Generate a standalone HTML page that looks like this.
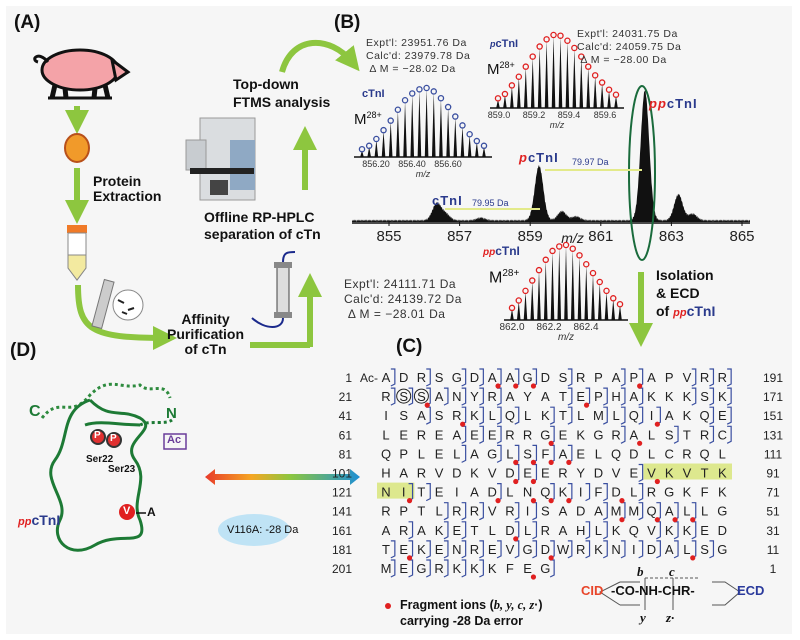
<!DOCTYPE html>
<html><head><meta charset="utf-8">
<style>
html,body{margin:0;padding:0;background:#fff}
#root{position:relative;width:800px;height:640px;overflow:hidden;background:#fff;font-family:"Liberation Sans",sans-serif}
#bg{position:absolute;left:6px;top:6px;width:786px;height:628px;background:#f6f6f6}
.t{position:absolute;white-space:nowrap;color:#111}
.b{font-weight:bold}
svg{position:absolute;left:0;top:0}
</style></head><body>
<div id="root">
<div id="bg"></div>
<svg width="800" height="640" id="art">
 <defs>
  <linearGradient id="rb" x1="0" x2="1"><stop offset="0" stop-color="#e83a2a"/><stop offset=".3" stop-color="#f5a623"/><stop offset=".55" stop-color="#8cc63f"/><stop offset="1" stop-color="#1e8fd5"/></linearGradient>
  <marker id="ga" markerWidth="4" markerHeight="4" refX="2" refY="2" orient="auto"><path d="M0,0 L4,2 L0,4z" fill="#8dc63f"/></marker>
 </defs>
 <g>
  <ellipse cx="80" cy="70" rx="38" ry="20" fill="#f4a3a8" stroke="#111" stroke-width="3"/>
  <path d="M112,60 L128,72 L116,80z" fill="#f4a3a8" stroke="#111" stroke-width="3"/>
  <path d="M48,62 C38,50 30,60 38,62" fill="none" stroke="#111" stroke-width="3"/>
  <path d="M55,85 L52,98 M65,88 L66,98 M95,88 L94,98 M105,85 L108,98" stroke="#111" stroke-width="5"/>
  <line x1="48" y1="98" x2="112" y2="98" stroke="#111" stroke-width="3"/>
 </g>
 <line x1="77" y1="106" x2="77" y2="122" stroke="#8dc63f" stroke-width="6" marker-end="url(#ga)"/>
 <ellipse cx="77" cy="148" rx="12" ry="14" fill="#f19a2a" stroke="#b8501a" stroke-width="2"/>
 <line x1="77" y1="168" x2="77" y2="212" stroke="#8dc63f" stroke-width="6" marker-end="url(#ga)"/>
 <g>
  <rect x="67" y="225" width="20" height="8" fill="#f07a28"/>
  <path d="M68,233 L86,233 L86,268 L77,280 L68,268z" fill="#fff" stroke="#888"/>
  <path d="M68,255 L86,255 L86,268 L77,280 L68,268z" fill="#f3eaa0" stroke="#888"/>
 </g>
 <path d="M78,285 C78,330 90,338 165,338" fill="none" stroke="#8dc63f" stroke-width="6" marker-end="url(#ga)"/>
 <g>
  <rect x="98" y="280" width="10" height="48" fill="#ccc" stroke="#777" transform="rotate(15 103 304)"/>
  <circle cx="128" cy="305" r="15" fill="#fff" stroke="#888"/>
  <path d="M118,300 l6,3 M128,310 l6,-2 M122,312 l5,2" stroke="#222" stroke-width="2"/>
 </g>
 <line x1="250" y1="345" x2="310" y2="345" stroke="#8dc63f" stroke-width="6"/>
 <line x1="310" y1="347" x2="310" y2="285" stroke="#8dc63f" stroke-width="6" marker-end="url(#ga)"/>
 <g>
  <rect x="277" y="265" width="12" height="50" fill="#ddd" stroke="#444"/>
  <rect x="274" y="262" width="18" height="6" fill="#888"/><rect x="274" y="312" width="18" height="6" fill="#888"/>
  <path d="M283,262 C283,252 288,252 295,252 M283,318 C283,330 265,330 252,318" fill="none" stroke="#1b2a8c" stroke-width="2"/>
 </g>
 <g>
  <rect x="200" y="118" width="55" height="82" fill="#dadde0" stroke="#999"/>
  <rect x="230" y="140" width="25" height="50" fill="#8fa9c4"/>
  <rect x="186" y="140" width="20" height="30" fill="#c8ccd0" stroke="#999"/>
  <rect x="190" y="168" width="64" height="6" fill="#222"/>
  <rect x="210" y="180" width="18" height="15" fill="#444"/>
 </g>
 <line x1="305" y1="190" x2="305" y2="138" stroke="#8dc63f" stroke-width="6" marker-end="url(#ga)"/>
 <path d="M282,72 C292,35 330,35 352,62" fill="none" stroke="#8dc63f" stroke-width="6" marker-end="url(#ga)"/>
 <g id="spec"></g>
 <g id="insets"></g>
 <ellipse cx="642" cy="173" rx="13" ry="87" fill="none" stroke="#1a6b3c" stroke-width="2"/>
 <line x1="445" y1="209" x2="540" y2="209" stroke="#e3ea8a" stroke-width="2"/>
 <line x1="545" y1="170" x2="642" y2="170" stroke="#e3ea8a" stroke-width="2"/>
 <line x1="641" y1="272" x2="641" y2="335" stroke="#8dc63f" stroke-width="6" marker-end="url(#ga)"/>
 <g>
  <path d="M42,418 C60,395 70,420 90,395 C110,375 120,390 140,385 C150,395 165,380 170,398" fill="none" stroke="#2e8b3e" stroke-width="3" stroke-dasharray="3,3"/>
  <path d="M90,400 C60,410 70,440 55,460 C40,480 70,500 60,520 C50,540 70,560 95,545 C120,530 150,550 140,520 C130,500 150,480 135,460 C120,440 160,430 140,418 C120,408 110,420 90,400 M85,425 C100,420 120,425 140,425" fill="none" stroke="#1d7a35" stroke-width="3"/>
  <path d="M140,425 C150,420 165,425 172,420" fill="none" stroke="#1d7a35" stroke-width="3" stroke-dasharray="3,3"/>
  <circle cx="98" cy="437" r="7" fill="#e03030" stroke="#333" stroke-width="2"/><circle cx="114" cy="440" r="7" fill="#e03030" stroke="#333" stroke-width="2"/>
  <circle cx="127" cy="512" r="8" fill="#e02020"/>
  <line x1="136" y1="513" x2="146" y2="513" stroke="#111" stroke-width="1.5"/>
  <rect x="164" y="434" width="22" height="15" fill="none" stroke="#6a3d9a" stroke-width="1.5"/>
 </g>
 <ellipse cx="254" cy="530" rx="36" ry="16" fill="#bfe3f5"/>
 <path d="M205,477 L215,469 L215,474 L350,474 L350,469 L360,477 L350,485 L350,480 L215,480 L215,485z" fill="url(#rb)"/>
 <g id="seq"></g>
 <circle cx="388" cy="606" r="3" fill="#e02020"/>
 <g fill="none" stroke="#555" stroke-width="1">
  <path d="M620,582 L600,592 L620,605 M620,582 L640,582 M620,605 L640,605"/>
  <path d="M712,582 L725,582 L740,592 L725,605 L712,605"/>
  <line x1="645" y1="578" x2="645" y2="610"/><line x1="673" y1="578" x2="673" y2="610"/>
  <line x1="645" y1="578" x2="700" y2="578" stroke-dasharray="3,2"/>
 </g>
</svg>
<div class="t b" style="left:14px;top:12px;font-size:19px">(A)</div>
<div class="t b" style="left:93px;top:174px;font-size:14px;line-height:15px">Protein<br>Extraction</div>
<div class="t b" style="left:167px;top:312px;font-size:14px;line-height:15px;text-align:center">Affinity<br>Purification<br>of cTn</div>
<div class="t b" style="left:204px;top:209px;font-size:14px;line-height:17px">Offline RP-HPLC<br>separation of cTn</div>
<div class="t b" style="left:233px;top:75px;font-size:14px;line-height:18px">Top-down<br>FTMS analysis</div>
<div class="t b" style="left:334px;top:12px;font-size:19px">(B)</div>
<div class="t" style="left:366px;top:37px;font-size:10.5px;line-height:13px;letter-spacing:.5px;color:#333">Expt'l: 23951.76 Da<br>Calc'd: 23979.78 Da<br>&nbsp;Δ M = −28.02 Da</div>
<div class="t" style="left:577px;top:28px;font-size:10.5px;line-height:13px;letter-spacing:.5px;color:#333">Expt'l: 24031.75 Da<br>Calc'd: 24059.75 Da<br>&nbsp;Δ M = −28.00 Da</div>
<div class="t" style="left:344px;top:277px;font-size:12px;line-height:15px;letter-spacing:.5px;color:#333">Expt'l: 24111.71 Da<br>Calc'd: 24139.72 Da<br>&nbsp;Δ M = −28.01 Da</div>
<div class="t b" style="left:362px;top:88px;font-size:11px;color:#2a3a8c">cTnI</div>
<div class="t" style="left:354px;top:110px;font-size:15px">M<sup style="font-size:9px">28+</sup></div>
<div class="t b" style="left:490px;top:38px;font-size:11px;color:#2a3a8c"><i style="font-size:9px">p</i>cTnI</div>
<div class="t" style="left:487px;top:60px;font-size:15px">M<sup style="font-size:9px">28+</sup></div>
<div class="t b" style="left:483px;top:244px;font-size:12px;color:#2a3a8c"><i style="font-size:10px;color:#e02020">pp</i>cTnI</div>
<div class="t" style="left:489px;top:268px;font-size:16px">M<sup style="font-size:10px">28+</sup></div>
<div class="t b" style="left:432px;top:193px;font-size:13px;color:#2a3a8c;letter-spacing:1px">cTnI</div>
<div class="t" style="left:472px;top:198px;font-size:9px;color:#2a3a8c">79.95 Da</div>
<div class="t b" style="left:519px;top:150px;font-size:13px;color:#2a3a8c;letter-spacing:1px"><i style="color:#e02020">p</i>cTnI</div>
<div class="t" style="left:572px;top:157px;font-size:9px;color:#2a3a8c">79.97 Da</div>
<div class="t b" style="left:649px;top:96px;font-size:13px;color:#2a3a8c;letter-spacing:1px"><i style="color:#e02020">pp</i>cTnI</div>
<div class="t b" style="left:656px;top:266px;font-size:14px;line-height:18px">Isolation<br>&amp; ECD<br>of <i style="color:#e02020;font-size:11px">pp</i><span style="color:#2a3a8c">cTnI</span></div>
<div class="t b" style="left:396px;top:336px;font-size:19px">(C)</div>
<div class="t b" style="left:10px;top:340px;font-size:19px">(D)</div>
<div class="t b" style="left:29px;top:403px;font-size:16px;color:#1d7a35">C</div>
<div class="t b" style="left:166px;top:405px;font-size:15px;color:#1d7a35">N</div>
<div class="t b" style="left:167px;top:434px;font-size:11px;color:#6a3d9a">Ac</div>
<div class="t b" style="left:94px;top:430px;font-size:10px;color:#fff">P</div>
<div class="t b" style="left:110px;top:433px;font-size:10px;color:#fff">P</div>
<div class="t b" style="left:86px;top:454px;font-size:10px">Ser22</div>
<div class="t b" style="left:108px;top:464px;font-size:10px">Ser23</div>
<div class="t b" style="left:123px;top:505px;font-size:11px;color:#fff">V</div>
<div class="t b" style="left:147px;top:505px;font-size:12px">A</div>
<div class="t b" style="left:18px;top:512px;font-size:14px;color:#2a3a8c"><i style="color:#e02020;font-size:11px">pp</i>cTnI</div>
<div class="t" style="left:227px;top:524px;font-size:11px">V116A: -28 Da</div>
<div class="t b" style="left:400px;top:597px;font-size:12.5px;line-height:16px">Fragment ions (<i style="font-family:'Liberation Serif'">b, y, c, z</i>·)<br>carrying -28 Da error</div>
<div class="t b" style="left:581px;top:583px;font-size:13px;color:#e8452a">CID</div>
<div class="t b" style="left:611px;top:583px;font-size:13px">-CO-NH-CHR-</div>
<div class="t b" style="left:737px;top:583px;font-size:13px;color:#2a3a9c">ECD</div>
<div class="t b" style="left:637px;top:564px;font-size:13px;font-family:'Liberation Serif';font-style:italic">b</div>
<div class="t b" style="left:669px;top:564px;font-size:13px;font-family:'Liberation Serif';font-style:italic">c</div>
<div class="t b" style="left:640px;top:610px;font-size:13px;font-family:'Liberation Serif';font-style:italic">y</div>
<div class="t b" style="left:666px;top:610px;font-size:13px;font-family:'Liberation Serif';font-style:italic">z·</div>
</div>
<script>
const peakMz = [856.35, 856.6, 857.6, 859.25, 859.9, 860.3, 862.25, 863.2, 863.6];
const peakRel = [0.13, 0.05, 0.02, 0.42, 0.07, 0.03, 1.0, 0.2, 0.05];
const axisTicks = [855, 857, 859, 861, 863, 865];
const ctniIso = [0.1,0.15,0.25,0.38,0.52,0.68,0.82,0.92,0.98,1,0.95,0.85,0.72,0.58,0.45,0.32,0.22,0.15];
const pctniIso = [0.12,0.18,0.3,0.42,0.56,0.7,0.84,0.94,1,0.99,0.92,0.82,0.7,0.56,0.44,0.34,0.24,0.17];
const ppctniIso = [0.15,0.25,0.38,0.52,0.66,0.8,0.92,0.98,1,0.95,0.86,0.74,0.62,0.5,0.38,0.28,0.2];
const ctniTicks = ["856.20","856.40","856.60"];
const pctniTicks = ["859.0","859.2","859.4","859.6"];
const ppctniTicks = ["862.0","862.2","862.4"];
const seqRows = ["ADRSGDAAGDSRPAPAPVRR","RSSANYRAYATEPHAKKKSK","ISASRKLQLKTLMLQIAKQE","LEREAEERRGEKGRALSTRC","QPLELAGLSFAELQDLCRQL","HARVDKVDEERYDVEVKVTK","NITEIADLNQKIFDLRGKFK","RPTLRRVRISADAMMQALLG","ARAKETLDLRAHLKQVKKED","TEKENREVGDWRKNIDALSG","MEGRKKKFEG"];
const leftNums = [1,21,41,61,81,101,121,141,161,181,201];
const rightNums = [191,171,151,131,111,91,71,51,31,11,1];
const cuts = ["10101111101001100111","11111110001111100111","00101111011011110011","00001110010001001011","00001011111000000000","00000001100000100000","01100010011110100000","00011101100011111100","01011001100110011100","11111111111111111110","11111100010000000000"];
const dots = [[0,6],[0,7],[0,8],[0,14],[1,2],[1,11],[2,4],[2,15],[3,9],[3,14],[4,7],[4,8],[4,9],[4,10],[5,7],[5,8],[5,15],[6,1],[6,6],[6,8],[6,9],[6,10],[6,13],[7,13],[7,15],[7,16],[7,17],[8,7],[9,1],[9,9],[9,17],[10,8]];

const NS="http://www.w3.org/2000/svg";
function mk(tag,attrs,parent){const e=document.createElementNS(NS,tag);for(const k in attrs)e.setAttribute(k,attrs[k]);parent.appendChild(e);return e;}

const spec=document.getElementById('spec');
const x0=389,xs=35.3,base=222,hMax=130;
const X=m=>x0+(m-855)*xs, Y=r=>base-r*hMax;
let d="M352,"+base;
for(let px=352;px<=750;px+=0.5){
  const m=855+(px-x0)/xs;let v=0;
  for(let i=0;i<peakMz.length;i++){const s=0.12;v+=peakRel[i]*Math.exp(-0.5*((m-peakMz[i])/s)**2);}
  const wig=0.02*Math.abs(Math.sin(px*2.3));
  d+=" L"+px+","+(Y(v+wig)).toFixed(1);
}
d+=" L750,"+base+"z";
const sp=mk('path',{d:d,fill:"#111"},spec);


const ax=mk('line',{x1:352,y1:base+1,x2:750,y2:base+1,stroke:"#111","stroke-width":1.5},spec);


axisTicks.forEach(t=>{
  mk('line',{x1:X(t),y1:base,x2:X(t),y2:base+4,stroke:"#111"},spec);
  const tx=mk('text',{x:X(t),y:base+19,"text-anchor":"middle","font-size":15,"font-family":"Liberation Sans",fill:"#222"},spec);
  tx.textContent=t;
  
  
});
const xt=mk('text',{x:X(860.2),y:base+21,"text-anchor":"middle","font-size":14,"font-style":"italic","font-family":"Liberation Sans",fill:"#222"},spec);
xt.textContent="m/z";



const ins=document.getElementById('insets');
function inset(name,iso,x1,x2,yb,h,col,ticks,tickX,fs){
  const g=mk('g',{},ins);
  
  
  const n=iso.length,step=(x2-x1-8)/(n-1);
  iso.forEach((v,i)=>{
    const x=x1+4+i*step,yt=yb-v*h;
    mk('path',{d:`M${x-1.8},${yb} L${x},${yt} L${x+1.8},${yb}z`,fill:"#111"},g);
    mk('circle',{cx:x,cy:yt-1,r:2.6,fill:"none",stroke:col,"stroke-width":1.3},g);
  });
  mk('line',{x1:x1-4,y1:yb,x2:x2+4,y2:yb,stroke:"#111","stroke-width":1.5},g);
  ticks.forEach((t,i)=>{const tx=mk('text',{x:tickX[i],y:yb+10,"text-anchor":"middle","font-size":fs,"font-family":"Liberation Sans",fill:"#333"},g);tx.textContent=t;});
  const m=mk('text',{x:(x1+x2)/2,y:yb+20,"text-anchor":"middle","font-size":fs,"font-style":"italic","font-family":"Liberation Sans",fill:"#333"},g);m.textContent="m/z";
}
inset('ctni-inset',ctniIso,358,488,157,68,"#3a4fa0",ctniTicks,[376,412,448],9);
inset('pctni-inset',pctniIso,494,620,108,72,"#e02020",pctniTicks,[499,534,569,605],9);
inset('ppctni-inset',ppctniIso,508,624,320,74,"#e02020",ppctniTicks,[512,549,586],10);

const seq=document.getElementById('seq');
const cx0=386,cstep=17.7,ry0=377,rstep=19.1;
mk('rect',{x:cx0+15*cstep-8,y:ry0+5*rstep-9,width:5*cstep,height:16,fill:"#dde88e"},seq);
mk('rect',{x:cx0-9,y:ry0+6*rstep-9,width:2*cstep+2,height:16,fill:"#dde88e"},seq);
seqRows.forEach((row,r)=>{
  const y=ry0+r*rstep;
  const ln=mk('text',{x:352,y:y+5,"text-anchor":"end","font-size":12,"font-family":"Liberation Sans",fill:"#222"},seq);ln.textContent=leftNums[r];
  const rn=mk('text',{x:773,y:y+5,"text-anchor":"middle","font-size":12,"font-family":"Liberation Sans",fill:"#222"},seq);rn.textContent=rightNums[r];
  for(let c=0;c<row.length;c++){
    const x=cx0+c*cstep;
    const t=mk('text',{x:x,y:y+5,"text-anchor":"middle","font-size":13,"font-family":"Liberation Sans",fill:"#222"},seq);
    t.textContent=row[c];
    
    
    if(cuts[r][c]==="1"){const bx=x+cstep/2;mk('path',{d:`M${bx-4},${y-8} L${bx},${y-8} L${bx},${y+7} L${bx-4},${y+9}`,fill:"none",stroke:"#3a4fa0","stroke-width":1.2},seq);}
  }
});
const ac=mk('text',{x:cx0-8,y:ry0+5,"text-anchor":"end","font-size":12,"font-family":"Liberation Sans",fill:"#222"},seq);ac.textContent="Ac-";
[1,2].forEach(c=>mk('circle',{cx:cx0+c*cstep,cy:ry0+rstep,r:7,fill:"none",stroke:"#222"},seq));
dots.forEach(([r,c])=>{
  const dt=mk('circle',{cx:cx0+c*cstep+cstep/2-3,cy:ry0+r*rstep+9,r:2.6,fill:"#e02020"},seq);
  
  
});
</script>
</body></html>
